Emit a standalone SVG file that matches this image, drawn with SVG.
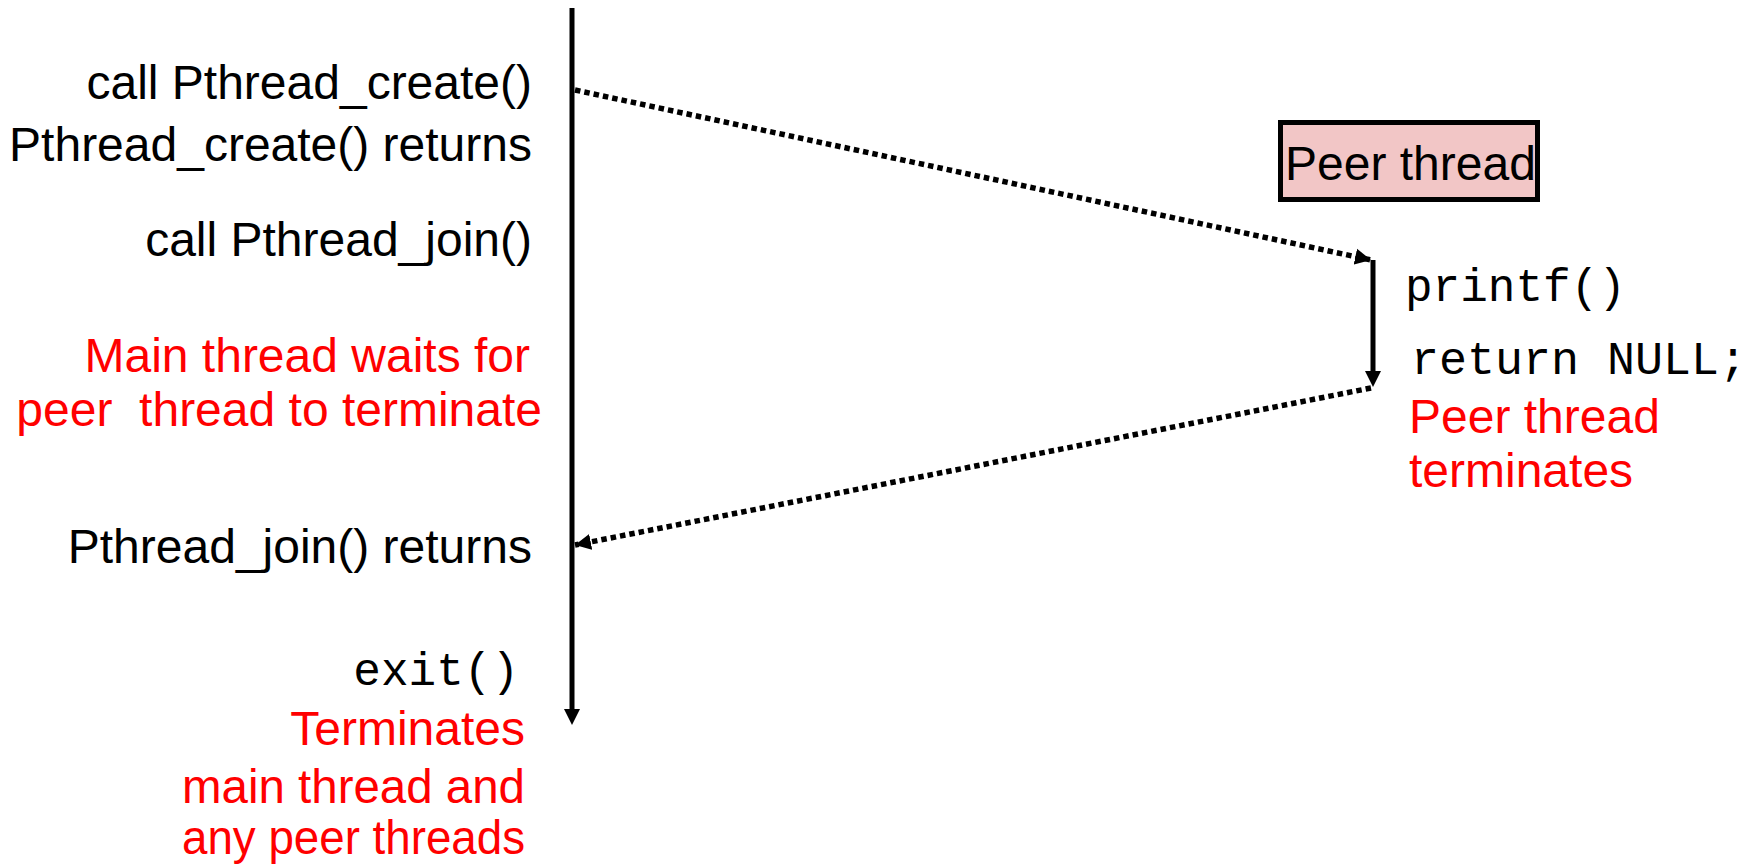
<svg xmlns="http://www.w3.org/2000/svg" width="1760" height="867" viewBox="0 0 1760 867">
<style>
.t{font-family:"Liberation Sans",Arial,sans-serif;font-size:48px;fill:#000}
.r{font-family:"Liberation Sans",Arial,sans-serif;font-size:48px;fill:#FF0000}
.m{font-family:"Liberation Mono","Courier New",monospace;font-size:46px;fill:#000}
.e{text-anchor:end}
.solid{stroke:#000;stroke-width:5;fill:none}
.dot{stroke:#000;stroke-width:5.5;stroke-dasharray:5.5 4;fill:none}
</style>
<defs>
<marker id="ah" markerUnits="userSpaceOnUse" markerWidth="18" markerHeight="18" viewBox="0 0 18 18" refX="16" refY="9" orient="auto">
<path d="M0,1 L16,9 L0,17 Z" fill="#000"/>
</marker>
</defs>
<g id="main-thread">
<line class="solid" x1="572" y1="8" x2="572" y2="710"/>
<path d="M564,709 L580,709 L572,725 Z" fill="#000"/>
<text class="t e" x="532" y="99">call Pthread_create()</text>
<text class="t e" x="532" y="161">Pthread_create() returns</text>
<text class="t e" x="532" y="256">call Pthread_join()</text>
<text class="r e" x="530" y="372">Main thread waits for</text>
<text class="r e" x="542" y="426" xml:space="preserve">peer  thread to terminate</text>
<text class="t e" x="532" y="563">Pthread_join() returns</text>
<text class="m e" x="519" y="685">exit()</text>
<text class="r e" x="525" y="745">Terminates</text>
<text class="r e" x="525" y="803" textLength="343" lengthAdjust="spacingAndGlyphs">main thread and</text>
<text class="r e" x="525" y="854" textLength="343" lengthAdjust="spacingAndGlyphs">any peer threads</text>
</g>
<g id="peer-label">
<rect x="1280.5" y="122.5" width="257" height="77" fill="#F2C6C6" stroke="#000" stroke-width="5"/>
<text class="t" x="1285" y="180">Peer thread</text>
</g>
<g id="peer-thread">
<line class="solid" x1="1373" y1="260" x2="1373" y2="372"/>
<path d="M1365,371 L1381,371 L1373,387 Z" fill="#000"/>
<text class="m" x="1405" y="301">printf()</text>
<text class="m" x="1411" y="374" textLength="336" lengthAdjust="spacingAndGlyphs">return NULL;</text>
<text class="r" x="1409" y="433">Peer thread</text>
<text class="r" x="1409" y="487">terminates</text>
</g>
<g id="connectors">
<line class="dot" x1="575" y1="90" x2="1371" y2="260" marker-end="url(#ah)"/>
<line class="dot" x1="1371" y1="388" x2="575" y2="545" marker-end="url(#ah)"/>
</g>
</svg>
